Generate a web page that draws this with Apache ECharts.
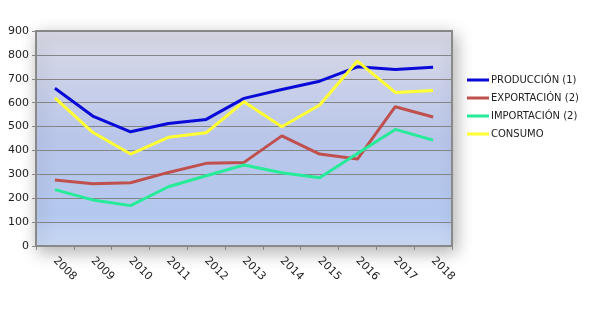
<!DOCTYPE html>
<html><head><meta charset="utf-8">
<script src="https://cdn.jsdelivr.net/npm/echarts@6/dist/echarts.min.js"></script>
<style>html,body{margin:0;padding:0;background:#fff}#c{width:600px;height:313px}</style>
</head><body><div id="c"></div>
<script>
const years = ['2008','2009','2010','2011','2012','2013','2014','2015','2016','2017','2018'];
const produccion = [660, 544, 478, 513, 530, 618, 655, 690, 750, 739, 748];
const exportacion = [276, 261, 265, 308, 346, 350, 461, 385, 364, 583, 540];
const importacion = [236, 193, 169, 248, 294, 339, 307, 286, 387, 488, 443];
const consumo = [620, 476, 385, 455, 474, 604, 499, 590, 774, 643, 651];
const seriesNames = ['PRODUCCIÓN (1)', 'EXPORTACIÓN (2)', 'IMPORTACIÓN (2)', 'CONSUMO'];
const seriesColors = ['#0a0ad8', '#c0504d', '#26eb98', '#ffff33'];
const seriesData = [produccion, exportacion, importacion, consumo];

const chart = echarts.init(document.getElementById('c'), null, {renderer: 'canvas'});
const font = 'DejaVu Sans';
chart.setOption({
  animation: false,
  backgroundColor: '#ffffff',
  grid: {
    left: 36, right: 148, top: 31, bottom: 67,
    show: true,
    borderColor: '#8a8a8a', borderWidth: 2,
    shadowColor: 'rgba(0,0,0,0.3)', shadowBlur: 16, shadowOffsetX: 3, shadowOffsetY: 5,
    backgroundColor: new echarts.graphic.LinearGradient(0, 0, 0, 1, [
      {offset: 0, color: '#dadae6'},
      {offset: 0.5, color: '#b9c6ea'},
      {offset: 0.85, color: '#b4c8ee'},
      {offset: 1, color: '#cddcf6'}
    ])
  },
  legend: {
    orient: 'vertical',
    left: 462, top: 70,
    itemWidth: 22, itemHeight: 3, itemGap: 8,
    icon: 'rect',
    textStyle: {fontFamily: font, fontSize: 10, color: '#222', padding: [0,0,0,-3]},
    data: seriesNames
  },
  xAxis: {
    type: 'category', data: years, boundaryGap: true,
    axisLine: {lineStyle: {color: '#888', width: 1}},
    axisTick: {show: true, length: 4, lineStyle: {color: '#888'}},
    axisLabel: {rotate: -45, fontFamily: font, fontSize: 11, color: '#222', margin: 13},
    splitLine: {show: false}
  },
  yAxis: {
    type: 'value', min: 0, max: 900, interval: 100,
    axisLine: {show: true, lineStyle: {color: '#888', width: 1}},
    axisTick: {show: true, length: 4, lineStyle: {color: '#888'}},
    axisLabel: {fontFamily: font, fontSize: 11, color: '#222', margin: 7},
    splitLine: {show: true, lineStyle: {color: '#858585', width: 1}}
  },
  series: seriesNames.map((n, i) => ({
    name: n, type: 'line', data: seriesData[i],
    symbol: 'none', lineStyle: {width: 3, color: seriesColors[i]},
    itemStyle: {color: seriesColors[i]}
  }))
});
</script></body></html>
